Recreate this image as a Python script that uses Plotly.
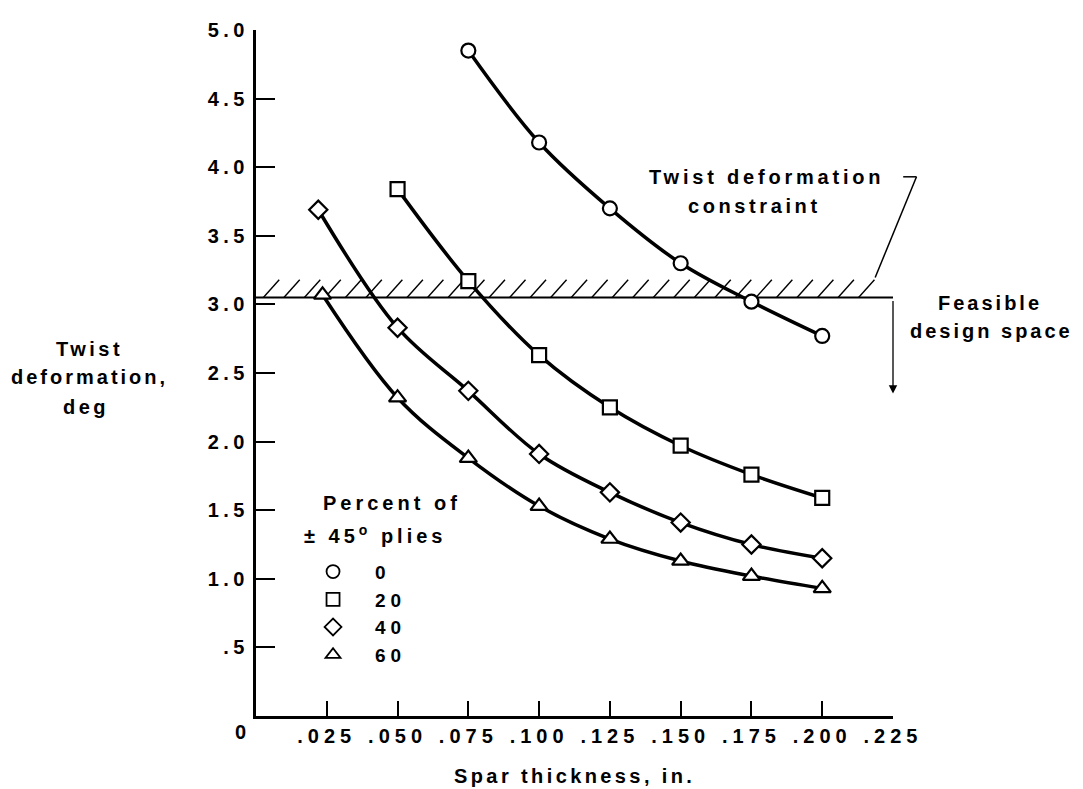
import plotly.graph_objects as go

# ---------------- data ----------------
x_0 = [0.075, 0.100, 0.125, 0.150, 0.175, 0.200]
y_0 = [4.85, 4.18, 3.70, 3.30, 3.02, 2.77]

x_20 = [0.050, 0.075, 0.100, 0.125, 0.150, 0.175, 0.200]
y_20 = [3.84, 3.17, 2.63, 2.25, 1.97, 1.76, 1.59]

x_40 = [0.022, 0.050, 0.075, 0.100, 0.125, 0.150, 0.175, 0.200]
y_40 = [3.69, 2.83, 2.37, 1.91, 1.63, 1.41, 1.25, 1.15]

x_60 = [0.0235, 0.050, 0.075, 0.100, 0.125, 0.150, 0.175, 0.200]
y_60 = [3.07, 2.32, 1.88, 1.53, 1.29, 1.13, 1.02, 0.93]

series_names = ["0", "20", "40", "60"]
series_symbols = ["circle", "square", "diamond", "triangle-up"]
series_sizes = [14, 14, 14, 15]

x_tickvals = [0.025, 0.050, 0.075, 0.100, 0.125, 0.150, 0.175, 0.200, 0.225]
x_ticktext = [".025", ".050", ".075", ".100", ".125", ".150", ".175", ".200", ".225"]
y_tickvals = [0.5, 1.0, 1.5, 2.0, 2.5, 3.0, 3.5, 4.0, 4.5, 5.0]
y_ticktext = [".5", "1.0", "1.5", "2.0", "2.5", "3.0", "3.5", "4.0", "4.5", "5.0"]

constraint_value = 3.05
x_range = [0, 0.225]
y_range = [0, 5]

FONT = "Liberation Sans, Arial, sans-serif"
TXT = dict(family=FONT, size=20, color="black", weight="bold")


def ls(s, sp=4.0):
    return "<span style='letter-spacing:%spx'>%s</span>" % (sp, s)


fig = go.Figure()

xs = [x_0, x_20, x_40, x_60]
ys = [y_0, y_20, y_40, y_60]
for xv, yv, nm, sym, sz in zip(xs, ys, series_names, series_symbols, series_sizes):
    fig.add_trace(go.Scatter(
        x=xv, y=yv, mode="lines+markers", showlegend=False,
        line=dict(color="black", width=3.5, shape="spline", smoothing=1.0),
        marker=dict(symbol=sym, size=sz, color="white",
                    line=dict(color="black", width=2.2)),
        cliponaxis=False,
    ))
# legend-only entries
for nm, sym in zip(series_names, series_symbols):
    fig.add_trace(go.Scatter(
        x=[None], y=[None], mode="markers", name=ls(nm, 5),
        marker=dict(symbol=sym, size=13, color="white",
                    line=dict(color="black", width=1.8)),
    ))


# ---------------- constraint line with hatching ----------------
def px(x):
    return x / x_range[1]


def py(y):
    return y / y_range[1]


shapes = []
shapes.append(dict(type="line", xref="paper", yref="paper",
                   x0=px(0), x1=px(0.225), y0=py(constraint_value), y1=py(constraint_value),
                   line=dict(color="black", width=2), layer="below"))
hatch_step = 0.00725
hatch_dx = 0.0056
hatch_dy = 0.13
n_h = 31
for i in range(n_h):
    hx = 0.0026 + i * hatch_step
    if hx + hatch_dx > 0.2255:
        break
    shapes.append(dict(type="line", xref="paper", yref="paper",
                       x0=px(hx), x1=px(hx + hatch_dx),
                       y0=py(constraint_value), y1=py(constraint_value + hatch_dy),
                       line=dict(color="black", width=1.4), layer="below"))
# leader from label to constraint
shapes.append(dict(type="line", xref="paper", yref="paper",
                   x0=px(0.2286), x1=px(0.2333), y0=py(3.93), y1=py(3.93),
                   line=dict(color="black", width=1.5)))
shapes.append(dict(type="line", xref="paper", yref="paper",
                   x0=px(0.2333), x1=px(0.2187), y0=py(3.93), y1=py(3.196),
                   line=dict(color="black", width=1.5)))


def label(text, x, y):
    return dict(xref="paper", yref="paper", x=x, y=y, text=text, showarrow=False,
                xanchor="center", yanchor="middle", align="center", font=TXT)


annotations = [
    label(ls("Twist deformation", 3.8), 0.802, 0.786),
    label(ls("constraint", 3.6), 0.782, 0.743),
    label(ls("Feasible", 3.0), 1.152, 0.6016),
    label(ls("design space", 3.0), 1.155, 0.561),
    label(ls("Twist", 3.5), -0.2606, 0.535),
    label(ls("deformation,", 3.0), -0.2615, 0.4935),
    label(ls("deg", 3.5), -0.267, 0.4505),
    label(ls("Percent of"), 0.2135, 0.310),
    label(ls("± 45<sup>o</sup> plies"), 0.187, 0.264),
    label(ls("Spar thickness, in.", 3.4), 0.5, -0.0875),
    label("0", -0.0251, -0.023),
]
annotations.append(dict(xref="paper", yref="paper", x=px(0.225), y=py(2.35),
                        ax=0, ay=-94, axref="pixel", ayref="pixel", text="",
                        showarrow=True, arrowhead=2, arrowsize=1.3, arrowwidth=1.3,
                        arrowcolor="black"))

# page body has an 8px default margin: size the figure so the plot area lands
# where the reference puts it
fig.update_layout(
    width=1075, height=781,
    margin=dict(l=248, r=190, t=11, b=73),
    plot_bgcolor="white", paper_bgcolor="white",
    font=TXT,
    shapes=shapes, annotations=annotations,
    showlegend=True,
    legend=dict(
        x=0.055, y=0.238, xanchor="left", yanchor="top",
        bgcolor="rgba(0,0,0,0)",
        font=dict(family=FONT, size=19, color="black", weight="bold"),
        itemwidth=74, tracegroupgap=0,
    ),
)
fig.update_xaxes(
    range=x_range, tickmode="array", tickvals=x_tickvals,
    ticktext=[ls(t, 5) for t in x_ticktext],
    ticks="inside", ticklen=15, tickwidth=2, tickcolor="black",
    showline=True, linewidth=3, linecolor="black", showgrid=False, zeroline=False,
    tickfont=TXT,
)
fig.update_yaxes(
    range=y_range, tickmode="array", tickvals=y_tickvals,
    ticktext=[ls(t, 4.5) for t in y_ticktext],
    ticks="inside", ticklen=19, tickwidth=2, tickcolor="black",
    showline=True, linewidth=3, linecolor="black", showgrid=False, zeroline=False,
    tickfont=TXT,
)

fig.write_html("out.html")
